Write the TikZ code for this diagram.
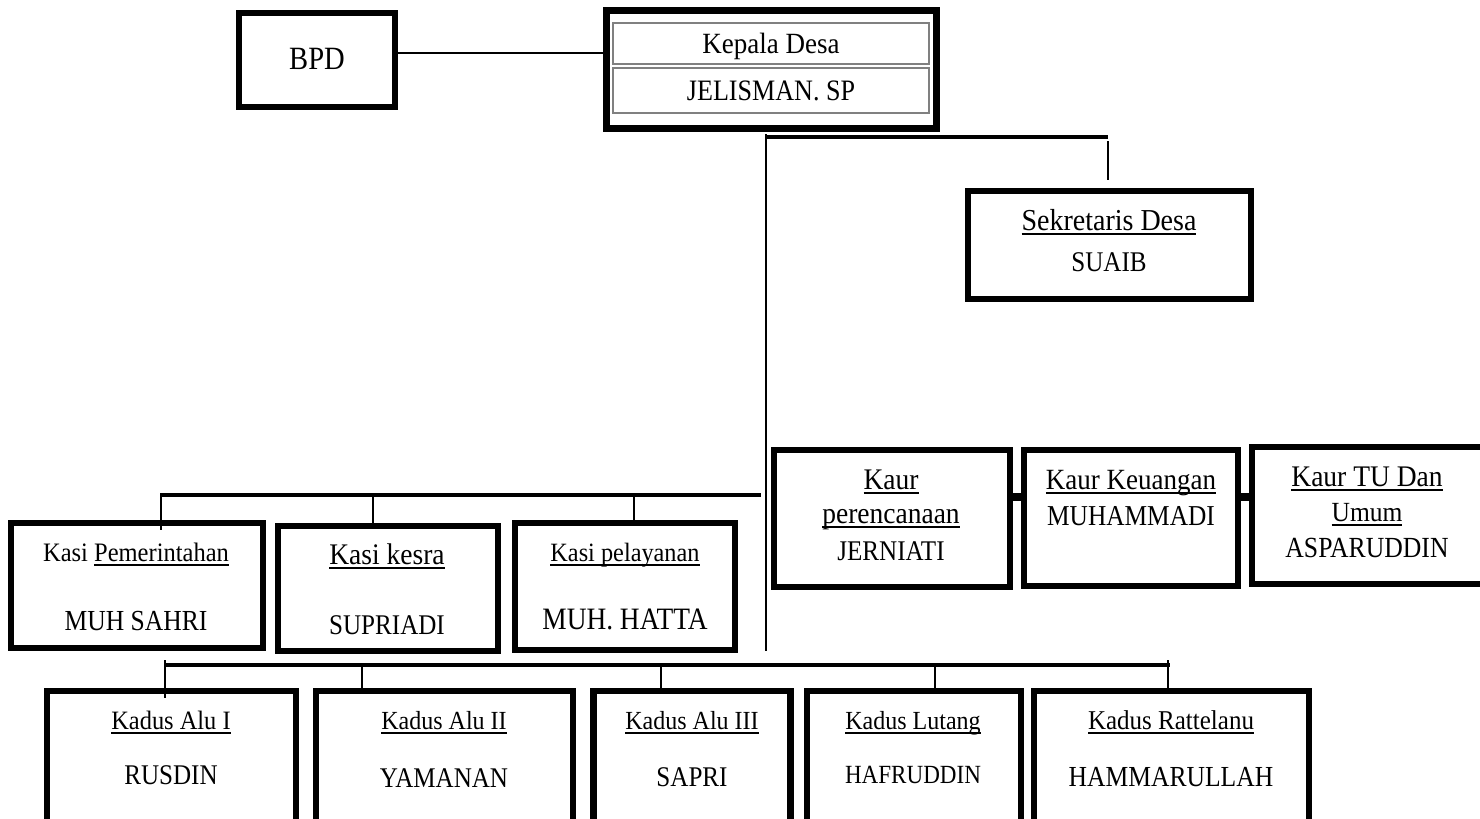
\documentclass[tikz,border=0pt]{standalone}
\usepackage{fontspec}
\setmainfont[FakeStretch=0.92]{Liberation Serif}
\newfontfamily\capsfont[FakeStretch=0.88]{Liberation Serif}
\usepackage{tikz}

\newcommand{\undl}[1]{\leavevmode\vtop{\setbox0\hbox{#1}\dp0=0pt\box0\kern3bp\hrule height 1.6bp}}

\begin{document}
\begin{tikzpicture}[x=1bp,y=-1bp,
    box/.style={draw,line width=6.5bp,inner sep=0pt},
    row/.style={draw=gray,line width=1.5bp,inner sep=0pt},
    txt/.style={anchor=base,inner sep=0pt,font=\fontsize{\fpeval{#1*1.087}bp}{#1bp}\selectfont},
    txt/.default=24,
    nm/.style={anchor=base,inner sep=0pt,font=\capsfont\fontsize{\fpeval{#1*1.14}bp}{#1bp}\selectfont},
    nm/.default=25,
    link/.style={line width=2bp},
    bus/.style={line width=3.5bp},
    kaurlink/.style={line width=8bp}]
    \useasboundingbox (0,0) rectangle (1480,818);
    \clip (0,0) rectangle (1480,818);

    % nodes
    \node[box,minimum width=156bp,minimum height=94bp] (bpd) at (317,60) {};
    \node[box,line width=7bp,minimum width=330bp,minimum height=118bp] (kades) at (771.5,69.5) {};
    \node[row,minimum width=316bp,minimum height=41bp] (kadesA) at (771,43.5) {};
    \node[row,minimum width=316bp,minimum height=45bp] (kadesB) at (771,90.5) {};
    \node[box,minimum width=283bp,minimum height=108bp] (sekdes) at (1109.5,245) {};

    \node[box,minimum width=236bp,minimum height=137bp] (kaur1) at (892,518.5) {};
    \node[box,minimum width=214bp,minimum height=136bp] (kaur2) at (1131,518) {};
    \node[box,minimum width=231bp,minimum height=137bp] (kaur3) at (1367.5,515.5) {};

    \node[box,minimum width=252bp,minimum height=125bp] (kasi1) at (137,585.5) {};
    \node[box,minimum width=220bp,minimum height=125bp] (kasi2) at (388,588.5) {};
    \node[box,minimum width=220bp,minimum height=127bp] (kasi3) at (625,586.5) {};

    \node[box,minimum width=249bp,minimum height=136bp] (kadus1) at (171.5,759) {};
    \node[box,minimum width=257bp,minimum height=136bp] (kadus2) at (444.5,759) {};
    \node[box,minimum width=197bp,minimum height=136bp] (kadus3) at (692,759) {};
    \node[box,minimum width=214bp,minimum height=136bp] (kadus4) at (914,759) {};
    \node[box,minimum width=275bp,minimum height=136bp] (kadus5) at (1171.5,759) {};

    % texts
    \node[nm=28.5] (bpd-t) at (317,70) {BPD};
    \node[txt=27] (kades-t) at (771,54) {Kepala Desa};
    \node[nm=26] (kades-n) at (771,100) {JELISMAN. SP};
    \node[txt=28] (sekdes-t) at (1109,230) {\undl{Sekretaris Desa}};
    \node[nm] (sekdes-n) at (1109,271) {SUAIB};

    \node[txt=27.5] (kaur1-t) at (891,489) {\undl{Kaur}};
    \node[txt=27.5] (kaur1-u) at (891,523) {\undl{perencanaan}};
    \node[nm] (kaur1-n) at (891,560) {JERNIATI};
    \node[txt=27] (kaur2-t) at (1131,489) {\undl{Kaur Keuangan}};
    \node[nm=25.3] (kaur2-n) at (1131,525) {MUHAMMADI};
    \node[txt=27.5] (kaur3-t) at (1367,486) {\undl{Kaur TU Dan}};
    \node[txt=25.5] (kaur3-u) at (1367,521) {\undl{Umum}};
    \node[nm=25.6] (kaur3-n) at (1367,557) {ASPARUDDIN};

    \node[txt=24.5] (kasi1-t) at (136,561) {Kasi \undl{Pemerintahan}};
    \node[nm=25.5] (kasi1-n) at (136,630) {MUH SAHRI};
    \node[txt=27.5] (kasi2-t) at (387,564) {\undl{Kasi kesra}};
    \node[nm] (kasi2-n) at (387,634) {SUPRIADI};
    \node[txt=24.3] (kasi3-t) at (625,561) {\undl{Kasi pelayanan}};
    \node[nm=27.3] (kasi3-n) at (625,629) {MUH. HATTA};

    \node[txt=24.4] (kadus1-t) at (171,729) {\undl{Kadus Alu I}};
    \node[nm] (kadus1-n) at (171,784) {RUSDIN};
    \node[txt] (kadus2-t) at (444,729) {\undl{Kadus Alu II}};
    \node[nm] (kadus2-n) at (444,787) {YAMANAN};
    \node[txt] (kadus3-t) at (692,729) {\undl{Kadus Alu III}};
    \node[nm] (kadus3-n) at (692,786) {SAPRI};
    \node[txt] (kadus4-t) at (913,729) {\undl{Kadus Lutang}};
    \node[nm=23] (kadus4-n) at (913,783) {HAFRUDDIN};
    \node[txt=25] (kadus5-t) at (1171,729) {\undl{Kadus Rattelanu}};
    \node[nm=25.5] (kadus5-n) at (1171,786) {HAMMARULLAH};

    % bus points
    \coordinate (top) at (766,134);
    \coordinate (trunk) at (766,651);
    \coordinate (sekA) at (765,137);
    \coordinate (sekB) at (1108,137);
    \coordinate (kasiA) at (161,495);
    \coordinate (kasiB) at (761,495);
    \coordinate (kadusA) at (165,665);
    \coordinate (kadusB) at (1170,665);

    % edges
    \draw[link] (bpd.east |- 0,53) -- (kades.west |- 0,53);
    \draw[link] (top) -- (trunk);
    \draw[bus] (sekA) -- (sekB);
    \draw[link] ([yshift=-4bp]sekB) -- ([yshift=8bp]sekB |- sekdes.north);

    \draw[kaurlink] (kaur1.east |- 0,497) -- (kaur2.west |- 0,497);
    \draw[kaurlink] (kaur2.east |- 0,497) -- (kaur3.west |- 0,497);

    \draw[bus] (kasiA) -- (kasiB);
    \draw[link] ([yshift=2bp]kasiA) -- (kasiA |- 0,530);
    \draw[link] (373,493) -- (373,528);
    \draw[link] (634,495) -- (634,520);

    \draw[bus] (kadusA) -- (kadusB);
    \draw[link] (165,660) -- (165,698);
    \draw[link] (362,665) -- (362,690);
    \draw[link] (661,665) -- (661,690);
    \draw[link] (935,665) -- (935,690);
    \draw[link] (1168,660) -- (1168,690);
\end{tikzpicture}
\end{document}
